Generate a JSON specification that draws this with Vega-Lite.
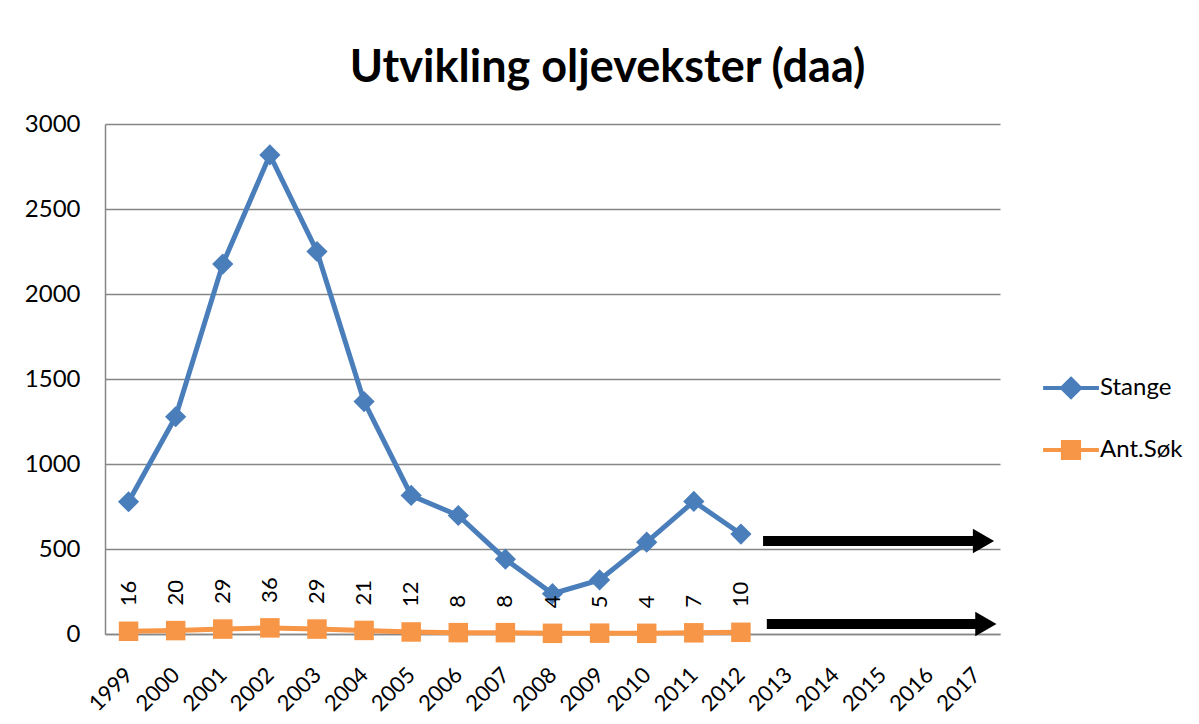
{
  "$schema": "https://vega.github.io/schema/vega-lite/v6.json",
  "width": 895,
  "height": 510,
  "autosize": "none",
  "padding": {"left": 105, "top": 124, "right": 199, "bottom": 90},
  "background": "white",
  "title": {
    "text": "Utvikling oljevekster (daa)",
    "font": "Lato",
    "fontSize": 45,
    "fontWeight": "bold",
    "color": "black",
    "anchor": "middle",
    "baseline": "alphabetic",
    "offset": -15,
    "dx": 55
  },
  "datasets": {
    "series": [
      {"year": 1999, "series": "Stange", "value": 778},
      {"year": 2000, "series": "Stange", "value": 1278},
      {"year": 2001, "series": "Stange", "value": 2176},
      {"year": 2002, "series": "Stange", "value": 2818},
      {"year": 2003, "series": "Stange", "value": 2250},
      {"year": 2004, "series": "Stange", "value": 1367},
      {"year": 2005, "series": "Stange", "value": 815},
      {"year": 2006, "series": "Stange", "value": 697},
      {"year": 2007, "series": "Stange", "value": 440},
      {"year": 2008, "series": "Stange", "value": 237},
      {"year": 2009, "series": "Stange", "value": 318},
      {"year": 2010, "series": "Stange", "value": 540},
      {"year": 2011, "series": "Stange", "value": 780},
      {"year": 2012, "series": "Stange", "value": 588},
      {"year": 1999, "series": "Ant.Søk", "value": 16},
      {"year": 2000, "series": "Ant.Søk", "value": 20},
      {"year": 2001, "series": "Ant.Søk", "value": 29},
      {"year": 2002, "series": "Ant.Søk", "value": 36},
      {"year": 2003, "series": "Ant.Søk", "value": 29},
      {"year": 2004, "series": "Ant.Søk", "value": 21},
      {"year": 2005, "series": "Ant.Søk", "value": 12},
      {"year": 2006, "series": "Ant.Søk", "value": 8},
      {"year": 2007, "series": "Ant.Søk", "value": 8},
      {"year": 2008, "series": "Ant.Søk", "value": 4},
      {"year": 2009, "series": "Ant.Søk", "value": 5},
      {"year": 2010, "series": "Ant.Søk", "value": 4},
      {"year": 2011, "series": "Ant.Søk", "value": 7},
      {"year": 2012, "series": "Ant.Søk", "value": 10}
    ],
    "arrows": [
      {"from": 2012.47, "to": 2016.95, "head": 2017.15, "level": 547},
      {"from": 2012.55, "to": 2017.0, "head": 2017.2, "level": 59}
    ]
  },
  "layer": [
    {
      "data": {"name": "series"},
      "mark": {"type": "line", "strokeWidth": 5},
      "encoding": {
        "x": {
          "field": "year",
          "type": "quantitative",
          "scale": {"domain": [1998.5, 2017.5], "nice": false, "zero": false},
          "axis": {
            "title": null,
            "values": [1999, 2000, 2001, 2002, 2003, 2004, 2005, 2006, 2007, 2008, 2009, 2010, 2011, 2012, 2013, 2014, 2015, 2016, 2017],
            "format": "d",
            "labelOverlap": false,
            "labelAngle": -45,
            "labelAlign": "right",
            "labelBaseline": "middle",
            "ticks": false,
            "grid": false,
            "labelPadding": 37,
            "labelOffset": 0,
            "labelFontSize": 22
          }
        },
        "y": {
          "field": "value",
          "type": "quantitative",
          "scale": {"domain": [0, 3000], "nice": false},
          "axis": {
            "title": null,
            "values": [0, 500, 1000, 1500, 2000, 2500, 3000],
            "format": "d",
            "grid": true,
            "ticks": false,
            "labelPadding": 25,
            "labelFontSize": 24
          }
        },
        "color": {"condition": {"test": "datum.series === 'Stange'", "value": "#4a7ebb"}, "value": "#f79646"},
        "detail": {"field": "series"}
      }
    },
    {
      "data": {"name": "series"},
      "mark": {"type": "point", "filled": true, "opacity": 1},
      "encoding": {
        "x": {"field": "year", "type": "quantitative"},
        "y": {"field": "value", "type": "quantitative"},
        "color": {"condition": {"test": "datum.series === 'Stange'", "value": "#4a7ebb"}, "value": "#f79646"},
        "shape": {"condition": {"test": "datum.series === 'Stange'", "value": "diamond"}, "value": "square"},
        "size": {"condition": {"test": "datum.series === 'Stange'", "value": 450}, "value": 380}
      }
    },
    {
      "data": {"name": "series"},
      "transform": [{"filter": "datum.series === 'Ant.Søk'"}],
      "mark": {"type": "text", "angle": 270, "align": "left", "baseline": "middle", "dx": 25, "font": "Lato", "fontSize": 22, "color": "black"},
      "encoding": {
        "x": {"field": "year", "type": "quantitative"},
        "y": {"field": "value", "type": "quantitative"},
        "text": {"field": "value", "type": "quantitative"}
      }
    },
    {
      "data": {"name": "arrows"},
      "mark": {"type": "rule", "color": "black", "strokeWidth": 10, "strokeCap": "butt"},
      "encoding": {
        "x": {"field": "from", "type": "quantitative"},
        "x2": {"field": "to"},
        "y": {"field": "level", "type": "quantitative"}
      }
    },
    {
      "data": {"name": "arrows"},
      "mark": {"type": "point", "shape": "triangle-right", "filled": true, "color": "black", "opacity": 1, "size": 600},
      "encoding": {
        "x": {"field": "head", "type": "quantitative"},
        "y": {"field": "level", "type": "quantitative"}
      }
    },
    {
      "data": {"name": "series"},
      "transform": [{"filter": "datum.value < 0"}],
      "mark": {"type": "point", "opacity": 1, "strokeWidth": 4},
      "encoding": {
        "x": {"field": "year", "type": "quantitative"},
        "y": {"field": "value", "type": "quantitative"},
        "fill": {
          "field": "series",
          "type": "nominal",
          "scale": {"domain": ["Stange", "Ant.Søk"], "range": ["#4a7ebb", "#f79646"]},
          "legend": {
            "title": null,
            "orient": "none",
            "legendX": 954,
            "legendY": 252,
            "padding": 0,
            "symbolSize": 324,
            "symbolStrokeWidth": 4,
            "labelOffset": 17,
            "rowPadding": 28,
            "labelFont": "Lato",
            "labelFontSize": 24,
            "labelColor": "black"
          }
        },
        "stroke": {
          "field": "series",
          "type": "nominal",
          "scale": {"domain": ["Stange", "Ant.Søk"], "range": ["#4a7ebb", "#f79646"]},
          "legend": {
            "title": null,
            "orient": "none",
            "legendX": 954,
            "legendY": 252,
            "padding": 0,
            "symbolSize": 324,
            "symbolStrokeWidth": 4,
            "labelOffset": 17,
            "rowPadding": 28,
            "labelFont": "Lato",
            "labelFontSize": 24,
            "labelColor": "black"
          }
        },
        "shape": {
          "field": "series",
          "type": "nominal",
          "scale": {
            "domain": ["Stange", "Ant.Søk"],
            "range": [
              "M-3.1,0H3.1M0,-1L1,0L0,1L-1,0Z",
              "M-3.1,0H3.1M-0.9,-0.9H0.9V0.9H-0.9Z"
            ]
          },
          "legend": {
            "title": null,
            "orient": "none",
            "legendX": 954,
            "legendY": 252,
            "padding": 0,
            "symbolSize": 324,
            "symbolStrokeWidth": 4,
            "labelOffset": 17,
            "rowPadding": 28,
            "labelFont": "Lato",
            "labelFontSize": 24,
            "labelColor": "black"
          }
        }
      }
    }
  ],
  "config": {
    "view": {"stroke": null},
    "font": "Lato",
    "axis": {
      "labelFont": "Lato",
      "labelColor": "black",
      "domainColor": "#868686",
      "domainWidth": 1.5,
      "gridColor": "#868686",
      "gridWidth": 1.5
    }
  }
}
